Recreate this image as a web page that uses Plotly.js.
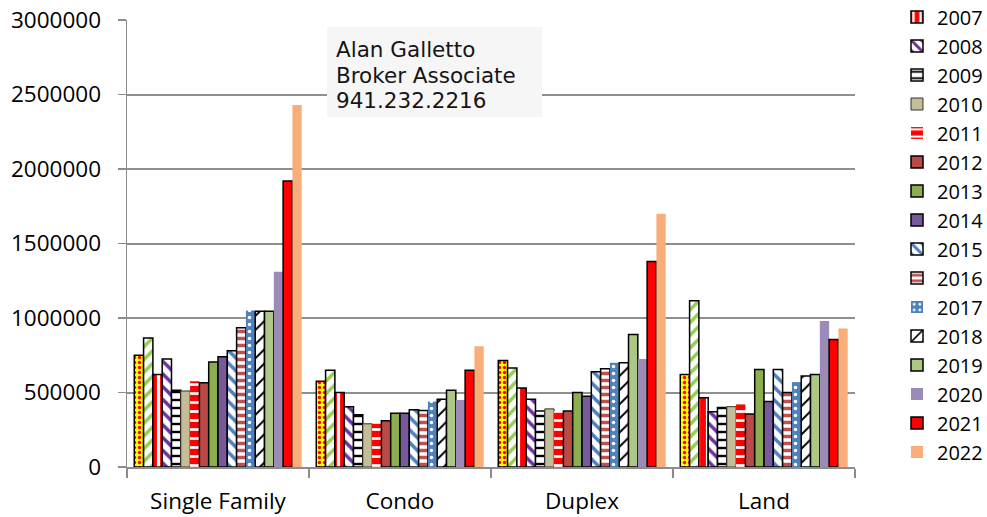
<!DOCTYPE html>
<html>
<head>
<meta charset="utf-8">
<script src="https://cdn.plot.ly/plotly-3.0.1.min.js"></script>
<style>
html,body{margin:0;padding:0;background:#fff;}
#chart{width:987px;height:517px;}
</style>
</head>
<body>
<div id="chart"></div>
<script>
// ---- data ----
const categories = ["Single Family", "Condo", "Duplex", "Land"];
const years = ["2005","2006","2007","2008","2009","2010","2011","2012","2013","2014","2015","2016","2017","2018","2019","2020","2021","2022"];
const y2005 = [750000, 575000, 715000, 620000];
const y2006 = [865000, 650000, 665000, 1115000];
const y2007 = [620000, 500000, 530000, 465000];
const y2008 = [725000, 405000, 455000, 370000];
const y2009 = [515000, 350000, 375000, 400000];
const y2010 = [510000, 290000, 390000, 405000];
const y2011 = [575000, 290000, 375000, 420000];
const y2012 = [565000, 310000, 375000, 355000];
const y2013 = [705000, 360000, 500000, 655000];
const y2014 = [740000, 360000, 475000, 440000];
const y2015 = [780000, 385000, 640000, 655000];
const y2016 = [935000, 380000, 660000, 500000];
const y2017 = [1050000, 440000, 700000, 570000];
const y2018 = [1045000, 455000, 700000, 610000];
const y2019 = [1045000, 515000, 890000, 620000];
const y2020 = [1310000, 450000, 725000, 980000];
const y2021 = [1920000, 650000, 1380000, 855000];
const y2022 = [2430000, 810000, 1700000, 930000];
const seriesValues = [y2005,y2006,y2007,y2008,y2009,y2010,y2011,y2012,y2013,y2014,y2015,y2016,y2017,y2018,y2019,y2020,y2021,y2022];
const inLegend = [false,false,true,true,true,true,true,true,true,true,true,true,true,true,true,true,true,true];
const noteLines = ["Alan Galletto", "Broker Associate", "941.232.2216"];

// ---- styles ----
const OUT = {color:'#000', width:1.5};
const NONE = {color:'rgba(0,0,0,0)', width:0};
const styles = [
  {color:'#FFFF00', pattern:{shape:'.', bgcolor:'#FFFF00', fgcolor:'#FF0000', size:5, solidity:0.35}, line:OUT},
  {color:'#FFFFFF', pattern:{shape:'/', bgcolor:'#FFFFFF', fgcolor:'#92D050', size:9, solidity:0.4}, line:OUT},
  {color:'#FF0000', pattern:{shape:'|', bgcolor:'#FF0000', fgcolor:'#FFFFFF', size:9, solidity:0.35}, line:OUT},
  {color:'#FFFFFF', pattern:{shape:'\\', bgcolor:'#FFFFFF', fgcolor:'#7030A0', size:9, solidity:0.4}, line:OUT},
  {color:'#FFFFFF', pattern:{shape:'-', bgcolor:'#FFFFFF', fgcolor:'#000000', size:8, solidity:0.3}, line:OUT},
  {color:'#C4BD97', line:{color:'#333', width:1}},
  {color:'#FF0000', pattern:{shape:'-', bgcolor:'#FF0000', fgcolor:'#FFFFFF', size:9, solidity:0.3}, line:NONE},
  {color:'#B94A48', line:OUT},
  {color:'#8DAE50', line:OUT},
  {color:'#775A9C', line:OUT},
  {color:'#FFFFFF', pattern:{shape:'\\', bgcolor:'#FFFFFF', fgcolor:'#4F81BD', size:9, solidity:0.4}, line:OUT},
  {color:'#FFFFFF', pattern:{shape:'-', bgcolor:'#FFFFFF', fgcolor:'#C0504D', size:7, solidity:0.5}, line:OUT},
  {color:'#4F81BD', pattern:{shape:'.', bgcolor:'#4F81BD', fgcolor:'#FFFFFF', size:7, solidity:0.2}, line:NONE},
  {color:'#FFFFFF', pattern:{shape:'/', bgcolor:'#FFFFFF', fgcolor:'#000000', size:10, solidity:0.2}, line:OUT},
  {color:'#ADC787', line:OUT},
  {color:'#9B8BB6', line:NONE},
  {color:'#FF0000', line:OUT},
  {color:'#F9AE7A', line:NONE}
];

const traces = seriesValues.map((vals, i) => {
  const st = styles[i];
  const marker = {color: st.color, line: st.line};
  if (st.pattern) marker.pattern = Object.assign({fillmode:'replace'}, st.pattern);
  return {
    type:'bar', name: years[i], x: categories, y: vals,
    marker: marker, showlegend: inLegend[i], hoverinfo:'x+y+name'
  };
});

// plot area in pixels: x 127..855, y 20..467
const PL = 127, PR = 855, PT = 20, PB = 467;
const px2x = p => (p - PL) / (PR - PL);
const px2y = p => (PB - p) / (PB - PT);

const FONT = '"Open Sans", "Noto Sans", sans-serif';
const NOTEFONT = '"DejaVu Sans", sans-serif';
const noteY = [49.5, 75.5, 101];
const annotations = noteLines.map((t, i) => ({
  xref:'paper', yref:'paper', x:px2x(335), y:px2y(noteY[i]), xanchor:'left', yanchor:'middle',
  text:t, align:'left', showarrow:false, borderpad:0,
  font:{family:NOTEFONT, size:21.5, color:'#151515'}
}));

const layout = {
  width:987, height:517,
  margin:{l:PL, r:987-PR, t:PT, b:517-PB, autoexpand:false},
  paper_bgcolor:'#fff', plot_bgcolor:'#fff',
  font:{family:FONT, size:22.5, color:'#000'},
  barmode:'group', bargap:0.08, bargroupgap:0,
  showlegend:true,
  legend:{x:px2x(897), xanchor:'left', y:px2y(-2.5), yanchor:'top', font:{family:FONT, size:20, color:'#000'},
          bgcolor:'rgba(0,0,0,0)', tracegroupgap:0, itemwidth:30, maxheight:600},
  xaxis:{type:'category', tickson:'boundaries', ticks:'outside', ticklen:9, tickcolor:'#8c8c8c', tickwidth:1.5,
         showline:true, linecolor:'#8c8c8c', linewidth:1.5, showgrid:false, ticklabelstandoff:13, automargin:false,
         tickfont:{family:FONT, size:22.5}},
  yaxis:{range:[0,3000000], dtick:500000, tick0:0, ticks:'outside', ticklen:8, tickcolor:'#8c8c8c', tickwidth:1.5,
         showline:true, linecolor:'#8c8c8c', linewidth:1.5, showgrid:true, gridcolor:'#8f8f8f', gridwidth:2,
         zeroline:false, tickformat:'d', ticklabelstandoff:12, automargin:false, tickfont:{family:FONT, size:22.5}},
  shapes:[{type:'rect', xref:'paper', yref:'paper', layer:'above',
           x0:px2x(327), x1:px2x(542), y0:px2y(117), y1:px2y(27),
           fillcolor:'#f6f6f6', line:{width:0}}],
  annotations: annotations
};

Plotly.newPlot('chart', traces, layout, {displayModeBar:false, staticPlot:true});
</script>
</body>
</html>
